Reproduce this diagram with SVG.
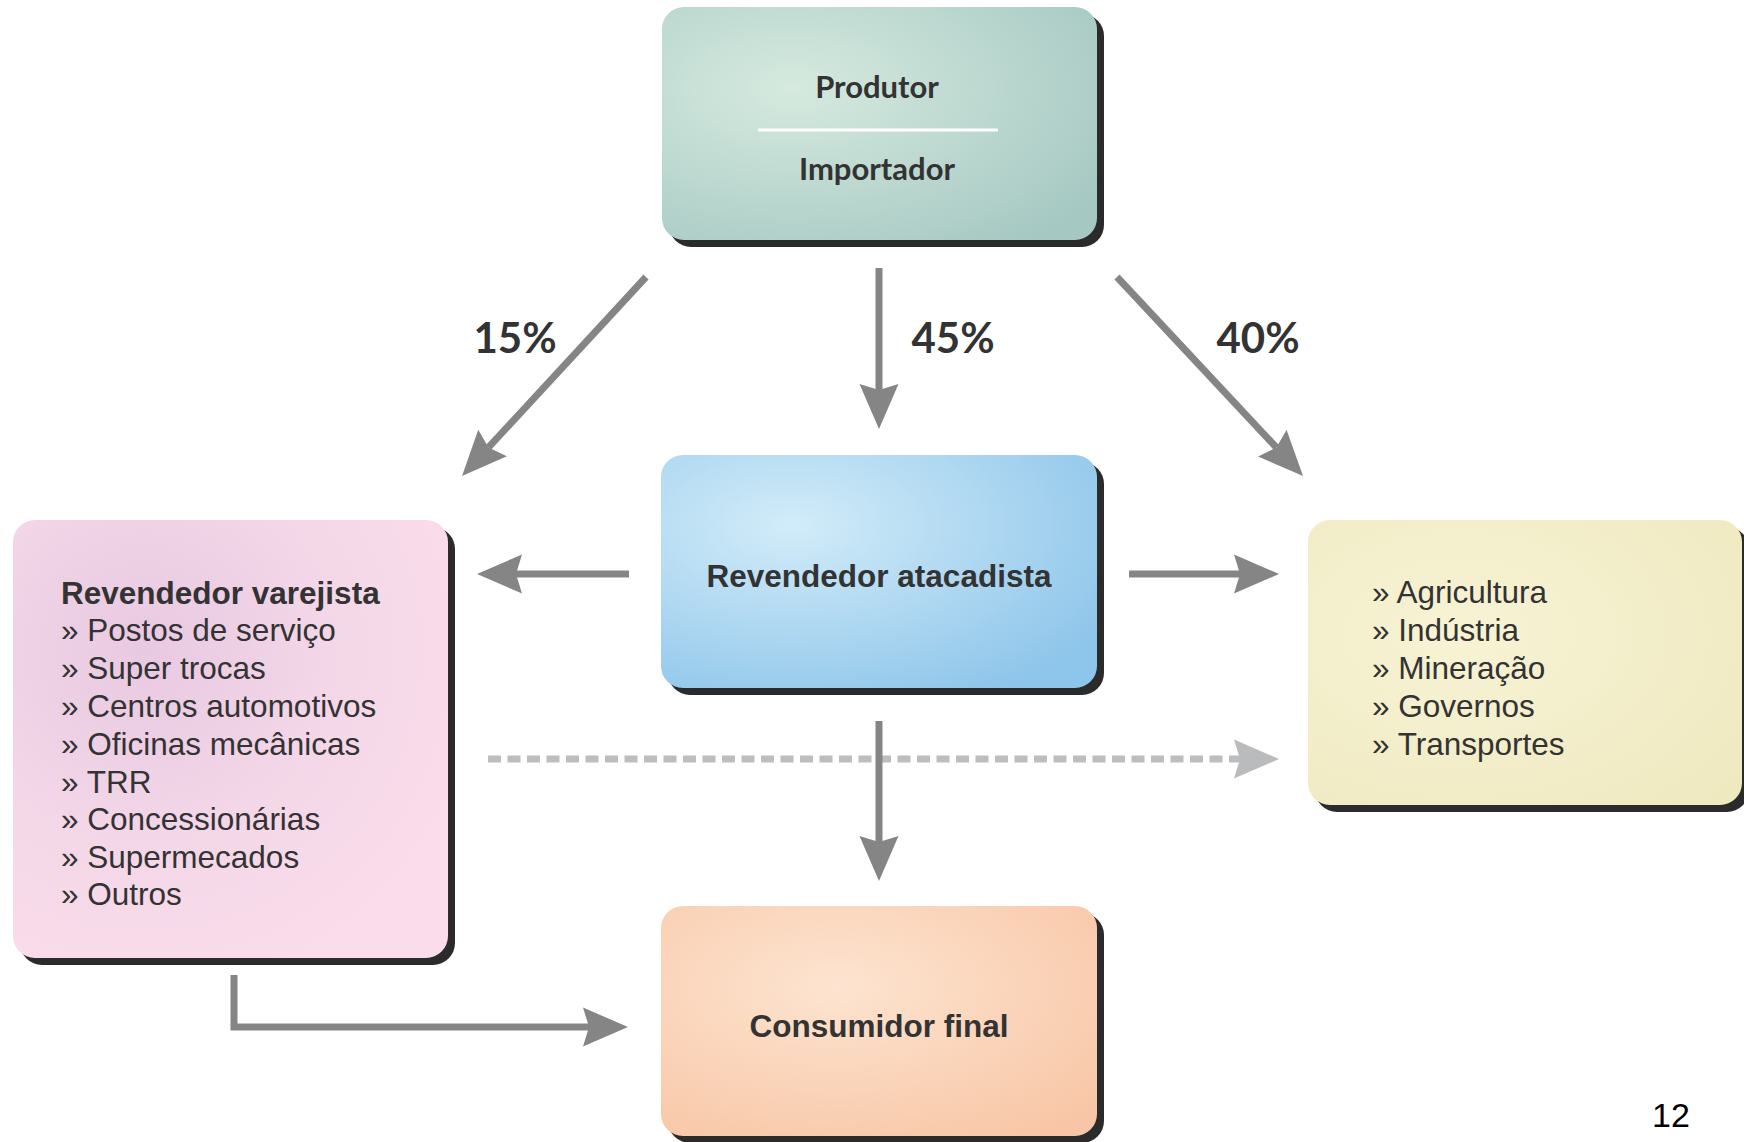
<svg xmlns="http://www.w3.org/2000/svg" width="1744" height="1142" viewBox="0 0 1744 1142">
<style>
.shadow{fill:#2b2b2b}
.head{font-family:Lato,"Open Sans","DejaVu Sans",sans-serif;font-weight:700;font-size:31px;fill:#333;text-anchor:middle}
.pct{font-family:Lato,"Open Sans","DejaVu Sans",sans-serif;font-weight:700;font-size:42px;fill:#333;text-anchor:middle}
.bold{font-family:"Liberation Sans",Arial,sans-serif;font-weight:700;font-size:31.5px;fill:#333}
.item{font-family:"Liberation Sans",Arial,sans-serif;font-size:31.5px;fill:#333}
.conn{fill:none;stroke:#858585;stroke-width:7}
.dash{fill:none;stroke:#bdbdbd;stroke-width:7;stroke-dasharray:13 6.5}
</style>
<defs>
<radialGradient id="gGreen" cx="0.3" cy="0.35" r="0.85">
<stop offset="0" stop-color="#d6eadf"/><stop offset="1" stop-color="#a5c8c2"/>
</radialGradient>
<radialGradient id="gBlue" cx="0.3" cy="0.3" r="0.85">
<stop offset="0" stop-color="#d2ecf9"/><stop offset="1" stop-color="#8ec5ea"/>
</radialGradient>
<radialGradient id="gPink" cx="0.3" cy="0.3" r="0.8">
<stop offset="0" stop-color="#e8c9e2"/><stop offset="0.6" stop-color="#f5d8e8"/><stop offset="1" stop-color="#fadcea"/>
</radialGradient>
<radialGradient id="gYellow" cx="0.35" cy="0.4" r="0.85">
<stop offset="0" stop-color="#f7f3d4"/><stop offset="1" stop-color="#efe9c0"/>
</radialGradient>
<radialGradient id="gOrange" cx="0.4" cy="0.35" r="0.8">
<stop offset="0" stop-color="#fde4d0"/><stop offset="1" stop-color="#f8c6a6"/>
</radialGradient>
<marker id="ah" viewBox="0 -20 45 40" markerWidth="45" markerHeight="40" refX="6" refY="0" orient="auto" markerUnits="userSpaceOnUse">
<path d="M0,-19.5 L45,0 L0,19.5 L6,0 Z" fill="#858585"/>
</marker>
<marker id="ahLight" viewBox="0 -20 45 40" markerWidth="45" markerHeight="40" refX="6" refY="0" orient="auto" markerUnits="userSpaceOnUse">
<path d="M0,-19.5 L45,0 L0,19.5 L6,0 Z" fill="#b9bbbc"/>
</marker>
</defs>
<rect width="1744" height="1142" fill="#ffffff"/>

<g id="connectors">
<line class="conn" x1="646" y1="277" x2="488.5" y2="447.4" marker-end="url(#ah)"/>
<line class="conn" x1="879" y1="268" x2="879" y2="390" marker-end="url(#ah)"/>
<line class="conn" x1="1117" y1="277" x2="1276.4" y2="447.5" marker-end="url(#ah)"/>
<line class="conn" x1="629" y1="574" x2="516" y2="574" marker-end="url(#ah)"/>
<line class="conn" x1="1129" y1="574" x2="1240" y2="574" marker-end="url(#ah)"/>
<line class="dash" x1="488" y1="759" x2="1240" y2="759" marker-end="url(#ahLight)"/>
<line class="conn" x1="879" y1="721" x2="879" y2="842" marker-end="url(#ah)"/>
<path class="conn" d="M234,975 V1027 H589" marker-end="url(#ah)"/>
</g>

<g id="labels">
<text class="pct" x="515" y="353">15%</text>
<text class="pct" x="953" y="353">45%</text>
<text class="pct" x="1258" y="353">40%</text>
</g>

<g id="produtor">
<rect class="shadow" x="669" y="14" width="435" height="233" rx="22"/>
<rect x="662" y="7" width="435" height="233" rx="22" fill="url(#gGreen)"/>
<text class="head" x="877" y="98">Produtor</text>
<line x1="758" y1="130" x2="998" y2="130" stroke="#ffffff" stroke-width="3"/>
<text class="head" x="877" y="180">Importador</text>
</g>

<g id="atacadista">
<rect class="shadow" x="668" y="462" width="436" height="233" rx="22"/>
<rect x="661" y="455" width="436" height="233" rx="22" fill="url(#gBlue)"/>
<text class="bold" x="879" y="587" text-anchor="middle">Revendedor atacadista</text>
</g>

<g id="varejista">
<rect class="shadow" x="20" y="527" width="435" height="438" rx="22"/>
<rect x="13" y="520" width="435" height="438" rx="22" fill="url(#gPink)"/>
<text class="bold" x="61" y="604">Revendedor varejista</text>
<text class="item" x="61" y="641">» Postos de serviço</text>
<text class="item" x="61" y="679">» Super trocas</text>
<text class="item" x="61" y="717">» Centros automotivos</text>
<text class="item" x="61" y="755">» Oficinas mecânicas</text>
<text class="item" x="61" y="793">» TRR</text>
<text class="item" x="61" y="830">» Concessionárias</text>
<text class="item" x="61" y="868">» Supermecados</text>
<text class="item" x="61" y="905">» Outros</text>
</g>

<g id="setores">
<rect class="shadow" x="1315" y="527" width="434" height="285" rx="22"/>
<rect x="1308" y="520" width="434" height="285" rx="22" fill="url(#gYellow)"/>
<text class="item" x="1372" y="603">» Agricultura</text>
<text class="item" x="1372" y="641">» Indústria</text>
<text class="item" x="1372" y="679">» Mineração</text>
<text class="item" x="1372" y="717">» Governos</text>
<text class="item" x="1372" y="755">» Transportes</text>
</g>

<g id="consumidor">
<rect class="shadow" x="668" y="913" width="436" height="230" rx="22"/>
<rect x="661" y="906" width="436" height="230" rx="22" fill="url(#gOrange)"/>
<text class="bold" x="879" y="1037" text-anchor="middle">Consumidor final</text>
</g>

<text x="1652" y="1127" font-family="'Liberation Sans',Arial,sans-serif" font-size="34" fill="#000">12</text>
</svg>
